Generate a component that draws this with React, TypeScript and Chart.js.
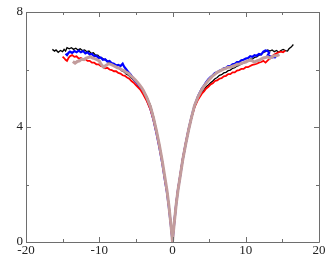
import React, { useEffect, useRef } from "react";
import { Chart, registerables } from "chart.js";

Chart.register(...registerables);

const xMajorTicks = [-20, -10, 0, 10, 20];
const xMinorTicks = [-15, -5, 5, 15];
const yMajorTicks = [0, 4, 8];
const yMinorTicks = [2, 6];

const blackPts: number[][] = [
  [-16.4, 6.7], [-16.1, 6.64], [-15.9, 6.68], [-15.6, 6.6], [-15.3, 6.66], [-15.0, 6.62], [-14.8, 6.7], [-14.6, 6.64],
  [-14.4, 6.76], [-14.1, 6.72], [-13.8, 6.76], [-13.5, 6.7], [-13.2, 6.74], [-12.9, 6.68], [-12.6, 6.72], [-12.3, 6.66],
  [-12.0, 6.68], [-11.7, 6.62], [-11.4, 6.64], [-11.1, 6.56], [-10.8, 6.58], [-10.5, 6.5], [-10.2, 6.5], [-9.9, 6.42],
  [-9.6, 6.4], [-9.3, 6.34], [-9.0, 6.32], [-8.7, 6.24], [-8.4, 6.22], [-8.1, 6.14], [-7.8, 6.12], [-7.5, 6.05],
  [-7.2, 6.02], [-6.9, 5.95], [-6.6, 5.92], [-6.3, 5.84], [-6.0, 5.8], [-5.7, 5.72], [-5.4, 5.66], [-5.1, 5.58],
  [-4.8, 5.52], [-4.5, 5.42], [-4.2, 5.34], [-4.0, 5.28], [-3.5, 5.05], [-3.0, 4.75], [-2.6, 4.38], [-2.2, 3.92],
  [-1.8, 3.42], [-1.4, 2.86], [-1.0, 2.2], [-0.75, 1.8], [-0.5, 1.3], [-0.25, 0.7], [-0.1, 0.3], [0, 0],
  [0.1, 0.3], [0.25, 0.68], [0.5, 1.28], [0.75, 1.78], [1.0, 2.18], [1.4, 2.82], [1.8, 3.36], [2.2, 3.86],
  [2.6, 4.3], [3.0, 4.68], [3.5, 5.0], [4.0, 5.22], [4.3, 5.3], [4.6, 5.4], [4.9, 5.46], [5.2, 5.54],
  [5.5, 5.6], [5.8, 5.68], [6.1, 5.72], [6.4, 5.8], [6.7, 5.82], [7.0, 5.88], [7.3, 5.9], [7.6, 5.96],
  [7.9, 5.98], [8.2, 6.04], [8.5, 6.06], [8.8, 6.12], [9.1, 6.14], [9.4, 6.2], [9.7, 6.22], [10.0, 6.28],
  [10.3, 6.3], [10.6, 6.36], [10.9, 6.36], [11.2, 6.42], [11.5, 6.44], [11.8, 6.5], [12.1, 6.52], [12.4, 6.6],
  [12.7, 6.62], [13.0, 6.68], [13.3, 6.64], [13.6, 6.68], [13.9, 6.62], [14.2, 6.66], [14.5, 6.6], [14.8, 6.66],
  [15.1, 6.7], [15.4, 6.66], [15.7, 6.64], [15.9, 6.72], [16.2, 6.78], [16.5, 6.87],
];

const bluePts: number[][] = [
  [-14.6, 6.55], [-14.4, 6.5], [-14.2, 6.58], [-14.0, 6.62], [-13.7, 6.58], [-13.4, 6.64], [-13.1, 6.6], [-12.8, 6.66],
  [-12.5, 6.6], [-12.2, 6.64], [-11.9, 6.56], [-11.6, 6.6], [-11.3, 6.52], [-11.0, 6.54], [-10.7, 6.46], [-10.4, 6.48],
  [-10.1, 6.4], [-9.8, 6.42], [-9.5, 6.34], [-9.2, 6.36], [-8.9, 6.28], [-8.6, 6.3], [-8.3, 6.22], [-8.0, 6.2],
  [-7.7, 6.14], [-7.4, 6.16], [-7.1, 6.12], [-6.8, 6.2], [-6.6, 6.1], [-6.3, 6.0], [-6.0, 5.9], [-5.7, 5.82],
  [-5.4, 5.7], [-5.1, 5.6], [-4.8, 5.5], [-4.5, 5.38], [-4.2, 5.28], [-4.0, 5.2], [-3.5, 4.95], [-3.0, 4.62],
  [-2.6, 4.25], [-2.2, 3.8], [-1.8, 3.3], [-1.4, 2.75], [-1.0, 2.1], [-0.75, 1.72], [-0.5, 1.22], [-0.25, 0.65],
  [-0.1, 0.28], [0, 0], [0.1, 0.3], [0.25, 0.7], [0.5, 1.32], [0.75, 1.82], [1.0, 2.22], [1.4, 2.88],
  [1.8, 3.42], [2.2, 3.92], [2.6, 4.36], [3.0, 4.74], [3.5, 5.08], [4.0, 5.34], [4.3, 5.44], [4.6, 5.56],
  [4.9, 5.66], [5.2, 5.74], [5.5, 5.8], [5.8, 5.88], [6.1, 5.9], [6.4, 5.96], [6.7, 5.98], [7.0, 6.04],
  [7.3, 6.06], [7.6, 6.12], [7.9, 6.12], [8.2, 6.18], [8.5, 6.2], [8.8, 6.26], [9.1, 6.26], [9.4, 6.32],
  [9.7, 6.34], [10.0, 6.38], [10.3, 6.4], [10.6, 6.46], [10.9, 6.44], [11.2, 6.5], [11.5, 6.48], [11.8, 6.54],
  [12.1, 6.52], [12.4, 6.62], [12.7, 6.66], [13.0, 6.64], [13.2, 6.58], [13.0, 6.5], [13.3, 6.46], [13.6, 6.42],
  [13.9, 6.44], [14.1, 6.4],
];

const redPts: number[][] = [
  [-15.0, 6.45], [-14.8, 6.4], [-14.6, 6.34], [-14.4, 6.3], [-14.2, 6.4], [-14.0, 6.46], [-13.7, 6.5], [-13.4, 6.44],
  [-13.1, 6.46], [-12.8, 6.38], [-12.5, 6.4], [-12.2, 6.34], [-11.9, 6.36], [-11.6, 6.3], [-11.3, 6.3], [-11.0, 6.24],
  [-10.7, 6.24], [-10.4, 6.18], [-10.1, 6.18], [-9.8, 6.12], [-9.5, 6.1], [-9.2, 6.04], [-8.9, 6.06], [-8.6, 6.0],
  [-8.3, 5.98], [-8.0, 5.94], [-7.7, 5.94], [-7.4, 5.88], [-7.1, 5.86], [-6.8, 5.8], [-6.5, 5.78], [-6.2, 5.72],
  [-5.9, 5.68], [-5.6, 5.6], [-5.3, 5.54], [-5.0, 5.46], [-4.7, 5.38], [-4.4, 5.3], [-4.0, 5.14], [-3.5, 4.9],
  [-3.0, 4.6], [-2.6, 4.25], [-2.2, 3.82], [-1.8, 3.32], [-1.4, 2.78], [-1.0, 2.12], [-0.75, 1.74], [-0.5, 1.26],
  [-0.25, 0.66], [-0.1, 0.28], [0, 0], [0.1, 0.32], [0.25, 0.7], [0.5, 1.34], [0.75, 1.84], [1.0, 2.24],
  [1.4, 2.9], [1.8, 3.44], [2.2, 3.92], [2.6, 4.34], [3.0, 4.68], [3.5, 4.96], [4.0, 5.16], [4.3, 5.24],
  [4.6, 5.34], [4.9, 5.4], [5.2, 5.48], [5.5, 5.52], [5.8, 5.6], [6.1, 5.62], [6.4, 5.68], [6.7, 5.7],
  [7.0, 5.76], [7.3, 5.78], [7.6, 5.84], [7.9, 5.84], [8.2, 5.9], [8.5, 5.9], [8.8, 5.96], [9.1, 5.98],
  [9.4, 6.02], [9.7, 6.02], [10.0, 6.08], [10.3, 6.08], [10.6, 6.12], [10.9, 6.16], [11.2, 6.18], [11.5, 6.2],
  [11.8, 6.24], [12.1, 6.26], [12.4, 6.3], [12.7, 6.24], [13.0, 6.32], [13.3, 6.38], [13.6, 6.46], [13.9, 6.52],
  [14.2, 6.56], [14.5, 6.6], [14.8, 6.62], [15.1, 6.6], [15.4, 6.66],
];

const rosyPts: number[][] = [
  [-13.6, 6.28], [-13.3, 6.22], [-13.0, 6.28], [-12.7, 6.3], [-12.4, 6.36], [-12.1, 6.34], [-11.8, 6.4], [-11.5, 6.42],
  [-11.2, 6.44], [-10.9, 6.4], [-10.6, 6.38], [-10.3, 6.34], [-10.0, 6.3], [-9.8, 6.2], [-9.6, 6.14], [-9.4, 6.08],
  [-9.2, 6.12], [-9.0, 6.16], [-8.7, 6.2], [-8.4, 6.18], [-8.1, 6.14], [-7.8, 6.1], [-7.5, 6.06], [-7.2, 6.04],
  [-6.9, 5.98], [-6.6, 5.96], [-6.3, 5.9], [-6.0, 5.86], [-5.7, 5.78], [-5.4, 5.72], [-5.1, 5.64], [-4.8, 5.56],
  [-4.5, 5.46], [-4.2, 5.36], [-4.0, 5.28], [-3.5, 5.02], [-3.0, 4.7], [-2.6, 4.32], [-2.2, 3.88], [-1.8, 3.38],
  [-1.4, 2.82], [-1.0, 2.18], [-0.75, 1.78], [-0.5, 1.28], [-0.25, 0.68], [-0.1, 0.3], [0, 0], [0.1, 0.3],
  [0.25, 0.68], [0.5, 1.3], [0.75, 1.8], [1.0, 2.2], [1.4, 2.86], [1.8, 3.4], [2.2, 3.9], [2.6, 4.34],
  [3.0, 4.74], [3.5, 5.06], [4.0, 5.3], [4.3, 5.42], [4.6, 5.52], [4.9, 5.62], [5.2, 5.7], [5.5, 5.78],
  [5.8, 5.84], [6.1, 5.9], [6.4, 5.94], [6.7, 5.98], [7.0, 6.02], [7.3, 6.04], [7.6, 6.08], [7.9, 6.08],
  [8.2, 6.12], [8.5, 6.14], [8.8, 6.18], [9.1, 6.18], [9.4, 6.22], [9.7, 6.24], [10.0, 6.26], [10.3, 6.3],
  [10.6, 6.32], [10.9, 6.3], [11.2, 6.26], [11.5, 6.3], [11.8, 6.32], [12.1, 6.36], [12.4, 6.4], [12.7, 6.42],
  [13.0, 6.44], [13.3, 6.4], [13.6, 6.44], [13.9, 6.48], [14.2, 6.48], [14.6, 6.52],
];

const toXY = (pts: number[][]) => pts.map(([x, y]) => ({ x, y }));

const framePlugin = {
  id: "frameTicks",
  afterDraw(chart: any) {
    const { ctx, chartArea, scales } = chart;
    const { left, right, top, bottom } = chartArea;
    ctx.save();
    ctx.strokeStyle = "#6e6e6e";
    ctx.lineWidth = 1;
    ctx.beginPath();
    ctx.rect(Math.round(left) + 0.5, Math.round(top) + 0.5, Math.round(right - left), Math.round(bottom - top));
    ctx.stroke();
    const drawX = (vals: number[], len: number) => {
      vals.forEach((v) => {
        const px = Math.round(scales.x.getPixelForValue(v)) + 0.5;
        ctx.beginPath();
        ctx.moveTo(px, bottom);
        ctx.lineTo(px, bottom - len);
        ctx.moveTo(px, top);
        ctx.lineTo(px, top + len);
        ctx.stroke();
      });
    };
    const drawY = (vals: number[], len: number) => {
      vals.forEach((v) => {
        const py = Math.round(scales.y.getPixelForValue(v)) + 0.5;
        ctx.beginPath();
        ctx.moveTo(left, py);
        ctx.lineTo(left + len, py);
        ctx.moveTo(right, py);
        ctx.lineTo(right - len, py);
        ctx.stroke();
      });
    };
    drawX(xMajorTicks, 5);
    drawX(xMinorTicks, 3);
    drawY(yMajorTicks, 5);
    drawY(yMinorTicks, 3);
    ctx.restore();
  },
};

export default function App() {
  const ref = useRef<HTMLCanvasElement | null>(null);
  useEffect(() => {
    if (!ref.current) return;
    const mk = (pts: number[][], color: string, width: number, order: number) => ({
      data: toXY(pts),
      borderColor: color,
      backgroundColor: color,
      borderWidth: width,
      pointRadius: 0,
      showLine: true,
      tension: 0,
      order,
    });
    const chart = new Chart(ref.current, {
      type: "scatter",
      data: {
        datasets: [
          mk(rosyPts, "#c29c9c", 3, 0),
          mk(redPts, "#ff0000", 1.8, 1),
          mk(bluePts, "#0000ff", 2.2, 2),
          mk(blackPts, "#000000", 1.3, 3),
        ],
      },
      options: {
        animation: false,
        responsive: false,
        devicePixelRatio: 1,
        layout: { padding: { top: 12, right: 13, left: 0, bottom: 0 } },
        plugins: { legend: { display: false }, tooltip: { enabled: false } },
        scales: {
          x: {
            type: "linear",
            min: -20,
            max: 20,
            grid: { display: false, drawTicks: false, tickLength: 0 },
            border: { display: false },
            ticks: {
              stepSize: 10,
              autoSkip: false,
              maxRotation: 0,
              padding: 1,
              color: "#222",
              font: { family: "'Liberation Serif', serif", size: 13 },
            },
            afterFit(scale: any) {
              scale.height = 14;
            },
          },
          y: {
            type: "linear",
            min: 0,
            max: 8,
            grid: { display: false, drawTicks: false, tickLength: 0 },
            border: { display: false },
            ticks: {
              stepSize: 4,
              autoSkip: false,
              padding: 3,
              color: "#222",
              font: { family: "'Liberation Serif', serif", size: 13 },
            },
            afterFit(scale: any) {
              scale.width = 26;
            },
          },
        },
      },
      plugins: [framePlugin],
    });
    return () => chart.destroy();
  }, []);
  return (
    <div style={{ position: "absolute", left: 0, top: 0, width: 332, height: 256, background: "#fff" }}>
      <canvas ref={ref} width={332} height={256} style={{ display: "block" }} />
    </div>
  );
}
